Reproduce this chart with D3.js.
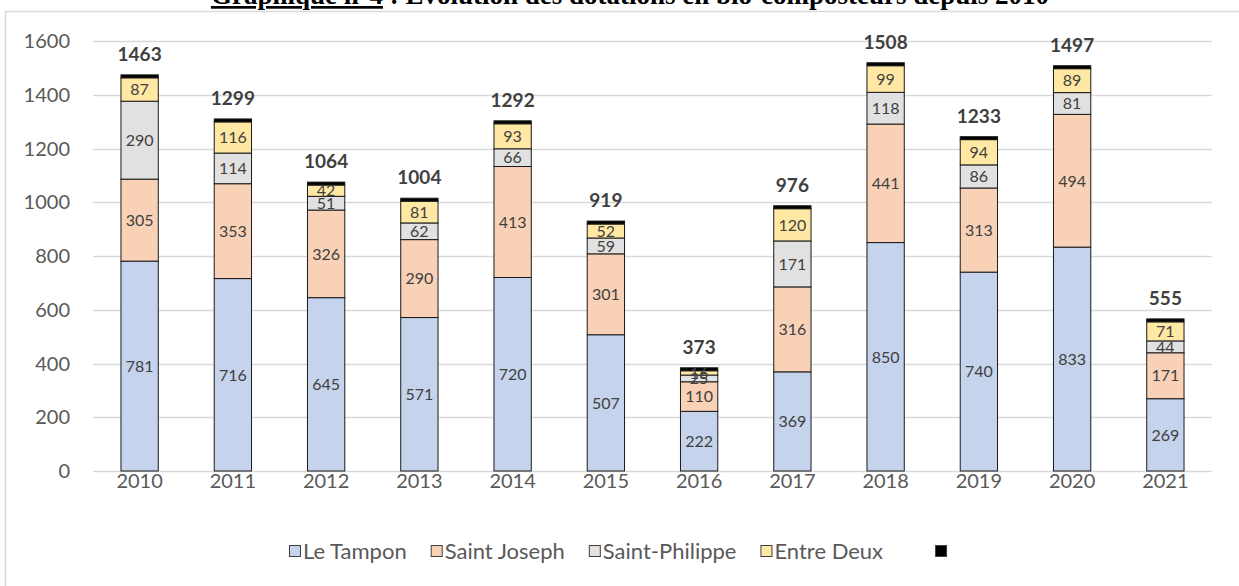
<!DOCTYPE html>
<html>
<head>
<meta charset="utf-8">
<script src="https://cdn.jsdelivr.net/npm/d3@7"></script>
<style>
  html, body { margin: 0; padding: 0; background: #fff; }
  svg { display: block; }
</style>
</head>
<body>
<svg id="chart" width="1239" height="586"></svg>
<script>
const years = ["2010","2011","2012","2013","2014","2015","2016","2017","2018","2019","2020","2021"];
const leTampon = [781,716,645,571,720,507,222,369,850,740,833,269];
const saintJoseph = [305,353,326,290,413,301,110,316,441,313,494,171];
const saintPhilippe = [290,114,51,62,66,59,25,171,118,86,81,44];
const entreDeux = [87,116,42,81,93,52,16,120,99,94,89,71];
const totalCap = [11,11,11,11,11,11,11,11,11,11,11,11];
const totals = [1463,1299,1064,1004,1292,919,373,976,1508,1233,1497,555];
const seriesNames = ["Le Tampon","Saint Joseph","Saint-Philippe","Entre Deux",""];
const seriesColors = ["#c5d3ec","#f9d1b6","#e1e1e1","#ffe8a4","#000000"];
const yTicks = [0,200,400,600,800,1000,1200,1400,1600];

const svg = d3.select("#chart");
const font = "Lato, 'Open Sans', sans-serif";

// Title (cut at top)
const title = svg.append("text")
  .attr("x", 630).attr("y", 4)
  .attr("text-anchor", "middle")
  .attr("font-family", "'Liberation Serif', 'Times New Roman', serif")
  .attr("font-weight", "bold").attr("font-size", 27).attr("fill", "#000");
title.append("tspan").attr("text-decoration", "underline").text("Graphique n°4");
title.append("tspan").text(" : Évolution des dotations en bio-composteurs depuis 2010");

// chart border
svg.append("rect").attr("x", 5.5).attr("y", 11.5).attr("width", 1300).attr("height", 700)
  .attr("fill", "none").attr("stroke", "#d9d9d9").attr("stroke-width", 1.5);

const x = d3.scaleBand().domain(years).range([93, 1212]).paddingInner(0.6).paddingOuter(0.3);
const y = d3.scaleLinear().domain([0, 1600]).range([471, 41]);

// gridlines
svg.append("g").selectAll("line").data(yTicks).join("line")
  .attr("x1", 93).attr("x2", 1212)
  .attr("y1", d => Math.round(y(d)) + 0.5).attr("y2", d => Math.round(y(d)) + 0.5)
  .attr("stroke", "#d9d9d9").attr("stroke-width", 1.3);

// y labels
svg.append("g").selectAll("text").data(yTicks).join("text")
  .attr("x", 70).attr("y", d => y(d)).attr("dy", "0.36em")
  .attr("text-anchor", "end").attr("font-family", font).attr("font-size", 20)
  .attr("fill", "#595959").text(d => d);

// x labels
svg.append("g").selectAll("text").data(years).join("text")
  .attr("x", d => x(d) + x.bandwidth() / 2).attr("y", 488)
  .attr("text-anchor", "middle").attr("font-family", font).attr("font-size", 20)
  .attr("fill", "#595959").text(d => d);

// stacked data
const rows = years.map((yr, i) => ({
  year: yr, s0: leTampon[i], s1: saintJoseph[i], s2: saintPhilippe[i], s3: entreDeux[i], s4: totalCap[i]
}));
const keys = ["s0","s1","s2","s3","s4"];
const stacked = d3.stack().keys(keys)(rows);

const g = svg.append("g");
stacked.forEach((layer, li) => {
  g.append("g").selectAll("rect").data(layer).join("rect")
    .attr("x", d => x(d.data.year))
    .attr("y", d => y(d[1]))
    .attr("width", x.bandwidth())
    .attr("height", d => y(d[0]) - y(d[1]))
    .attr("fill", seriesColors[li])
    .attr("stroke", "#1a1a1a").attr("stroke-width", 1);
});

// segment labels
stacked.slice(0, 4).forEach((layer) => {
  g.append("g").selectAll("text").data(layer).join("text")
    .attr("x", d => x(d.data.year) + x.bandwidth() / 2)
    .attr("y", d => y((d[0] + d[1]) / 2)).attr("dy", "0.36em")
    .attr("text-anchor", "middle").attr("font-family", font).attr("font-size", 16)
    .attr("fill", "#404040").text(d => d[1] - d[0]);
});

// total labels
g.append("g").selectAll("text").data(stacked[4]).join("text")
  .attr("x", d => x(d.data.year) + x.bandwidth() / 2)
  .attr("y", d => y(d[1]) - 14)
  .attr("text-anchor", "middle").attr("font-family", font).attr("font-size", 19)
  .attr("font-weight", "bold").attr("fill", "#404040")
  .text((d, i) => totals[i]);

// legend
const leg = svg.append("g");
let lx = 289;
seriesNames.forEach((name, i) => {
  const item = leg.append("g");
  item.append("rect").attr("x", lx + 0.5).attr("y", 545.5).attr("width", 11).attr("height", 11)
    .attr("fill", seriesColors[i]).attr("stroke", "#404040").attr("stroke-width", 1);
  const t = item.append("text").attr("x", lx + 14).attr("y", 558.5)
    .attr("font-family", font).attr("font-size", 22).attr("fill", "#595959").text(name);
  const w = t.node().getComputedTextLength();
  lx += 14 + w + (i === 3 ? 52 : 24);
});
</script>
</body>
</html>
